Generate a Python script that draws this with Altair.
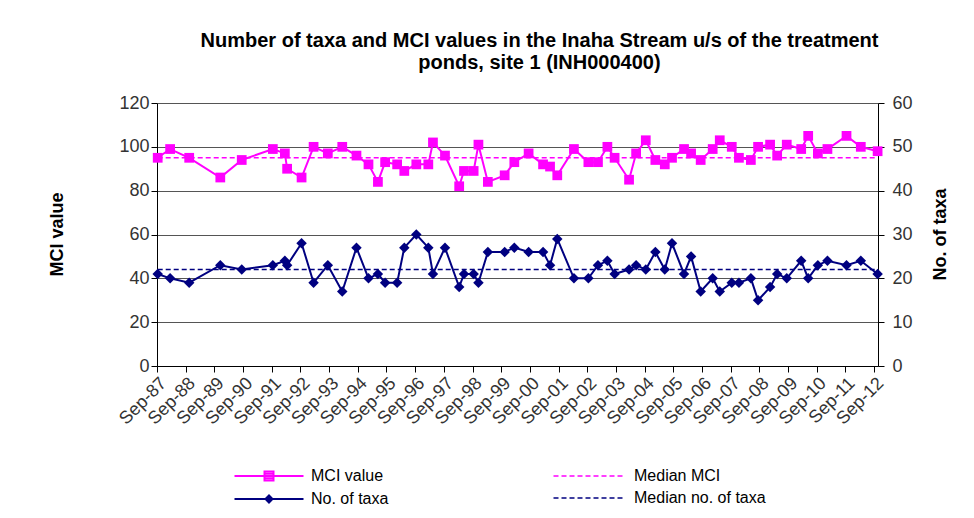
import altair as alt
import pandas as pd
from datetime import datetime, timezone

# ---- data ----
dates = [
    "1987-09-10", "1988-02-15", "1988-10-15", "1989-11-15", "1990-08-15",
    "1991-09-15", "1992-02-15", "1992-03-15", "1992-09-15", "1993-02-15",
    "1993-08-15", "1994-02-15", "1994-08-15", "1995-01-15", "1995-05-15",
    "1995-08-15", "1996-01-15", "1996-04-15", "1996-09-15", "1997-02-15",
    "1997-04-15", "1997-09-15", "1998-03-15", "1998-05-15", "1998-09-15",
    "1998-11-15", "1999-03-15", "1999-10-15", "2000-02-15", "2000-08-15",
    "2001-02-15", "2001-05-15", "2001-08-15", "2002-03-15", "2002-09-15",
    "2003-01-15", "2003-05-15", "2003-08-15", "2004-02-15", "2004-05-15",
    "2004-09-15", "2005-01-15", "2005-05-15", "2005-08-15", "2006-01-15",
    "2006-04-15", "2006-08-15", "2007-01-15", "2007-04-15", "2007-09-15",
    "2007-12-15", "2008-05-15", "2008-08-15", "2009-01-15", "2009-04-15",
    "2009-08-15", "2010-02-15", "2010-05-15", "2010-09-15", "2011-01-15",
    "2011-09-15", "2012-03-15", "2012-10-15",
]
mci = [
    95, 99, 95, 86, 94, 99, 97, 90, 86, 100,
    97, 100, 96, 92, 84, 93, 92, 89, 92, 92,
    102, 96, 82, 89, 89, 101, 84, 87, 93, 97,
    92, 91, 87, 99, 93, 93, 100, 95, 85, 97,
    103, 94, 92, 95, 99, 97, 94, 99, 103, 100,
    95, 94, 100, 101, 96, 101, 99, 105, 97, 99,
    105, 100, 98,
]
taxa = [
    21, 20, 19, 23, 22, 23, 24, 23, 28, 19,
    23, 17, 27, 20, 21, 19, 19, 27, 30, 27,
    21, 27, 18, 21, 21, 19, 26, 26, 27, 26,
    26, 23, 29, 20, 20, 23, 24, 21, 22, 23,
    22, 26, 22, 28, 21, 25, 17, 20, 17, 19,
    19, 20, 15, 18, 21, 20, 24, 20, 23, 24,
    23, 24, 21,
]
tick_labels = [
    "Sep-87", "Sep-88", "Sep-89", "Sep-90", "Sep-91", "Sep-92", "Sep-93",
    "Sep-94", "Sep-95", "Sep-96", "Sep-97", "Sep-98", "Sep-99", "Sep-00",
    "Sep-01", "Sep-02", "Sep-03", "Sep-04", "Sep-05", "Sep-06", "Sep-07",
    "Sep-08", "Sep-09", "Sep-10", "Sep-11", "Sep-12",
]
mci_ticks = [0, 20, 40, 60, 80, 100, 120]
taxa_ticks = [0, 10, 20, 30, 40, 50, 60]
median_mci = 95
median_taxa = 22
data_names = ["MCI value", "No. of taxa"]
median_names = ["Median MCI", "Median no. of taxa"]
title_lines = [
    "Number of taxa and MCI values in the Inaha Stream u/s of the treatment",
    "ponds, site 1 (INH000400)",
]

MAGENTA = "#FF00FF"
NAVY = "#000080"
FONT = "Liberation Sans"
LABEL = "#333333"


def ms(d):
    return int(d.replace(tzinfo=timezone.utc).timestamp() * 1000)


tick_ms = [ms(datetime.strptime(t, "%b-%y")) for t in tick_labels]
x_domain = [tick_ms[0], ms(datetime(2012, 10, 20))]

df_mci = pd.DataFrame({"date": dates, "value": mci, "series": data_names[0]})
df_taxa = pd.DataFrame({"date": dates, "value": taxa, "series": data_names[1]})
df_med_mci = pd.DataFrame({"date": [dates[0]], "end": [dates[-1]],
                           "value": [median_mci], "series": [median_names[0]]})
df_med_taxa = pd.DataFrame({"date": [dates[0]], "end": [dates[-1]],
                            "value": [median_taxa], "series": [median_names[1]]})

x_enc = alt.X(
    "date:T",
    scale=alt.Scale(type="utc", domain=x_domain),
    axis=alt.Axis(values=tick_ms, format="%b-%y", labelAngle=-45, grid=False,
                  title=None, tickSize=6, labelPadding=2, labelFontSize=18,
                  labelColor=LABEL, labelFont=FONT, domainColor="#000000",
                  tickColor="#000000", labelOverlap=False, labelBound=False,
                  labelFlush=False),
)

y_left = alt.Y(
    "value:Q",
    scale=alt.Scale(domain=[0, 120]),
    axis=alt.Axis(values=mci_ticks, grid=True, gridColor="#555555", gridWidth=1,
                  title="MCI value", titleFontSize=18, titleFont=FONT,
                  titleFontWeight="bold", titleColor="#000000", titleAngle=-90,
                  titleX=-100, titleY=131, titleAlign="center", titleBaseline="middle",
                  tickSize=6, labelPadding=2, labelFontSize=18, labelFont=FONT,
                  labelColor=LABEL, domainColor="#000000", tickColor="#000000"),
)
y_right = alt.Y(
    "value:Q",
    scale=alt.Scale(domain=[0, 60]),
    axis=alt.Axis(orient="right", values=taxa_ticks, grid=False,
                  title="No. of taxa", titleFontSize=18, titleFont=FONT,
                  titleFontWeight="bold", titleColor="#000000", titleAngle=-90,
                  titleX=62, titleY=131, titleAlign="center", titleBaseline="middle",
                  tickSize=6, labelPadding=8, labelFontSize=18, labelFont=FONT,
                  labelColor=LABEL, domainColor="#000000", tickColor="#000000"),
)

# legend symbols: a line with a marker drawn by strokes (so it is solid)
sym_mci = ("M-6.9,0L6.9,0M-0.9,-0.9L0.9,-0.9L0.9,0.9L-0.9,0.9Z"
           "M-0.9,-0.45L0.9,-0.45M-0.9,0.45L0.9,0.45")
sym_taxa = "M-6.9,0L6.9,0M-0.7,0L0,-0.7L0.7,0L0,0.7ZM0,-0.6L0,0.6"
sym_dash = "M-7.1,0L7.1,0"

leg_data = alt.Legend(orient="none", legendX=104, legendY=365, title=None, padding=0,
                      symbolSize=100, labelOffset=34, rowPadding=6,
                      labelFont=FONT, labelFontSize=16, labelColor="#000000",
                      symbolStrokeWidth=2, symbolOpacity=1)
leg_med = alt.Legend(orient="none", legendX=424, legendY=365, title=None, padding=0,
                     symbolSize=100, symbolType=sym_dash, symbolDash=[6, 3],
                     symbolStrokeWidth=1.5, symbolOpacity=1,
                     labelOffset=37, rowPadding=6,
                     labelFont=FONT, labelFontSize=16, labelColor="#000000")

color_enc = alt.Color("series:N", scale=alt.Scale(domain=data_names, range=[MAGENTA, NAVY]),
                      legend=leg_data)
shape_enc = alt.Shape("series:N", scale=alt.Scale(domain=data_names, range=[sym_mci, sym_taxa]),
                      legend=leg_data)
med_stroke = alt.Stroke("series:N", scale=alt.Scale(domain=median_names, range=[MAGENTA, NAVY]),
                        legend=leg_med)
med_dash = alt.StrokeDash("series:N", scale=alt.Scale(domain=median_names, range=[[5, 3], [5, 3]]),
                          legend=leg_med)

mci_line = alt.Chart(df_mci).mark_line(strokeWidth=2).encode(x=x_enc, y=y_left, color=color_enc)
mci_pts = alt.Chart(df_mci).mark_point(shape="square", filled=True, size=95, opacity=1,
                                       color=MAGENTA).encode(x=x_enc, y=y_left)
mci_med = alt.Chart(df_med_mci).mark_rule(strokeWidth=1.5).encode(
    x=x_enc, x2="end:T", y=y_left, stroke=med_stroke, strokeDash=med_dash)
# legend-only layer (no rows pass the filter): gives the legend its line+marker symbols
legend_keys = alt.Chart(df_mci).transform_filter("false").mark_point(strokeWidth=2).encode(
    x=x_enc, y=y_left, color=color_enc, shape=shape_enc)

taxa_line = alt.Chart(df_taxa).mark_line(strokeWidth=2).encode(x=x_enc, y=y_right, color=color_enc)
taxa_pts = alt.Chart(df_taxa).mark_point(shape="diamond", filled=True, size=110, opacity=1,
                                         color=NAVY).encode(x=x_enc, y=y_right)
taxa_med = alt.Chart(df_med_taxa).mark_rule(strokeWidth=1.5).encode(
    x=x_enc, x2="end:T", y=y_right, stroke=med_stroke, strokeDash=med_dash)

left = alt.layer(mci_med, mci_line, mci_pts, legend_keys)
right = alt.layer(taxa_med, taxa_line, taxa_pts)

chart = (
    alt.layer(left, right)
    .resolve_scale(y="independent")
    .properties(
        width=721, height=263,
        autosize=alt.AutoSizeParams(type="none"),
        padding={"left": 149, "top": 95, "right": 88, "bottom": 144},
        title=alt.TitleParams(text=title_lines, anchor="middle", dx=22, offset=21,
                              fontSize=20, font=FONT, fontWeight="bold",
                              color="#000000", lineHeight=22),
        background="#ffffff",
    )
    .configure_view(strokeWidth=0)
)

chart.save("out.html", embed_options={"renderer": "svg", "actions": False})
